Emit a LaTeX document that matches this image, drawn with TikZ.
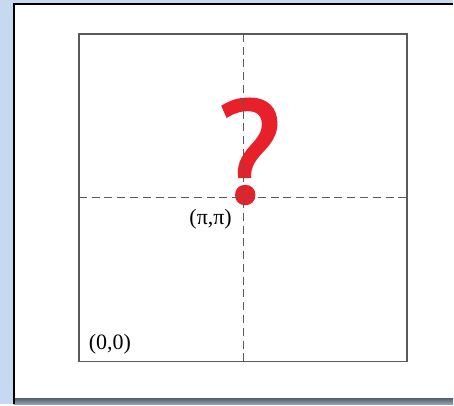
\documentclass[tikz,border=0pt]{standalone}
\usepackage{fontspec}
\setmainfont{Liberation Serif}
\newfontfamily\qfont[FakeBold=2.5]{PT Sans}
\definecolor{slideblue}{HTML}{C6D9F0}
\definecolor{qred}{HTML}{E8202A}
\definecolor{boxgray}{HTML}{5A5A5A}

\begin{document}
\begin{tikzpicture}[x=0.75pt,y=-0.75pt,
        axis/.style={boxgray,line width=1.1pt,dash pattern=on 6pt off 3.6pt},
        lbl/.style={inner sep=0pt,font=\fontsize{16.5}{16.5}\selectfont}]
        % Background
        \fill[slideblue] (0,0) rectangle (454,405);
        \fill[white] (14,4) rectangle (454,399);
        \shade[top color=black!55!slideblue,bottom color=black!25!slideblue] (14,399) rectangle (454,405);
        \draw[black,line width=1.2pt] (14,405) -- (14,4) -- (454,4);

        % Question mark
        \node[anchor=base,inner sep=0pt,text depth=0pt,text=qred,font=\qfont\fontsize{108}{108}\selectfont] (qmark) at (250,202) {?};

        % Square and axes
        \draw[boxgray,line width=1.2pt] (79,34) rectangle (408,362);
        \coordinate (top) at (244,34);
        \coordinate (bottom) at (244,362);
        \coordinate (left) at (79,198);
        \coordinate (right) at (408,198);
        \draw[axis] (top) -- (bottom);
        \draw[axis] (left) -- (right);

        % Labels
        \node[lbl] (pipi) at (211,220) {(π,π)};
        \node[lbl] (origin) at (110,345) {(0,0)};
\end{tikzpicture}
\end{document}
